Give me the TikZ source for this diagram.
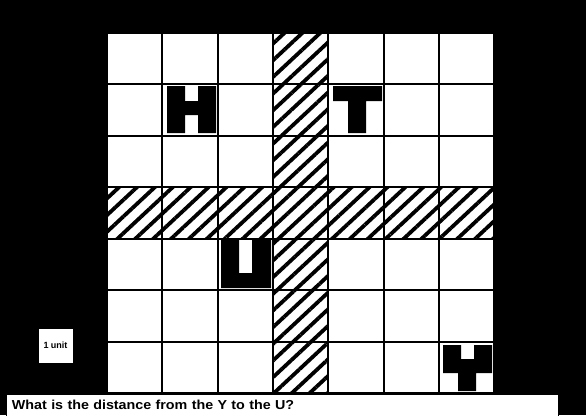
\documentclass[tikz,border=0pt]{standalone}
\usepackage{fontspec}
\setmainfont{Liberation Sans}
\newfontfamily\qfont{Liberation Sans}[FakeStretch=1.1]
\usetikzlibrary{patterns.meta}

\tikzset{
  cellbox/.style={draw, line width=2pt, fill=white, minimum width=55.3pt, minimum height=51.5pt, inner sep=0pt, outer sep=0pt},
  hatchbox/.style={preaction={fill=white}, pattern={Lines[angle=43,distance=12.2pt,line width=3.8pt]}},
  letter/.style={fill=black},
}

\begin{document}
\begin{tikzpicture}[x=1pt,y=-1pt]
\fill[black] (0,0) rectangle (586,415);
\useasboundingbox (0,0) rectangle (586,415);

% the board
\foreach \i in {0,...,6}{
  \foreach \j in {0,...,6}{
    \node[cellbox] (c\i\j) at ({134.65+55.3*\i},{58.25+51.5*\j}) {};
  }
}
% hatched column and row
\foreach \k in {0,...,6}{
  \node[cellbox, hatchbox] (v\k) at (c3\k) {};
  \node[cellbox, hatchbox] (h\k) at (c\k3) {};
}

% block letters
\fill[letter] (167,86) -- (185,86) -- (185,101) -- (198,101) -- (198,86) -- (216,86) -- (216,133) -- (198,133) -- (198,115) -- (185,115) -- (185,133) -- (167,133) -- cycle;
\fill[letter] (333,86) -- (382,86) -- (382,101) -- (366,101) -- (366,133) -- (348,133) -- (348,101) -- (333,101) -- cycle;
\fill[letter] (221,240) -- (239,240) -- (239,273) -- (252,273) -- (252,240) -- (271,240) -- (271,288) -- (221,288) -- cycle;
\fill[letter] (443,345) -- (461,345) -- (461,359) -- (474,359) -- (474,345) -- (492,345) -- (492,373) -- (476,373) -- (476,391) -- (458,391) -- (458,373) -- (443,373) -- cycle;

\node[draw, fill=white, minimum size=35pt, inner sep=0pt, font=\bfseries\fontsize{9}{10}\selectfont] (unit) at (55.5,345.5) {1 unit};

\node[draw, fill=white, text width=540pt, inner xsep=6pt, inner ysep=0pt, minimum height=22pt, align=left, font=\qfont\bfseries\fontsize{13}{15}\selectfont] (question) at (282,405) {What is the distance from the Y to the U?};
\end{tikzpicture}
\end{document}
